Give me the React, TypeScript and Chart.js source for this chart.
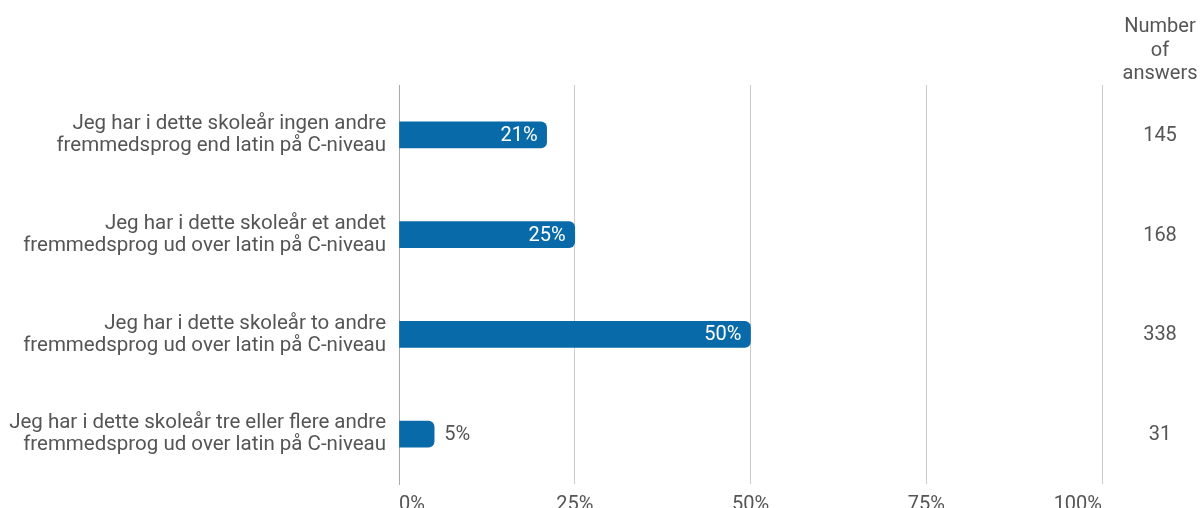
import React, { useEffect, useRef } from "react";
import { Chart, registerables } from "chart.js";

Chart.register(...registerables);

const categories: string[][] = [
  ["Jeg har i dette skoleår ingen andre", "fremmedsprog end latin på C-niveau"],
  ["Jeg har i dette skoleår et andet", "fremmedsprog ud over latin på C-niveau"],
  ["Jeg har i dette skoleår to andre", "fremmedsprog ud over latin på C-niveau"],
  ["Jeg har i dette skoleår tre eller flere andre", "fremmedsprog ud over latin på C-niveau"],
];
const percentValues: number[] = [21, 25, 50, 5];
const answerCounts: number[] = [145, 168, 338, 31];
const xTicks: number[] = [0, 25, 50, 75, 100];
const countHeader: string[] = ["Number", "of", "answers"];

const FONT = "Roboto, 'Noto Sans', sans-serif";
const TEXT = "#555555";
const BAR = "#086aa9";

const overlayPlugin = {
  id: "overlay",
  afterDatasetsDraw(chart: any) {
    const ctx = chart.ctx;
    const meta = chart.getDatasetMeta(0);
    const yScale = chart.scales.y;
    ctx.save();
    ctx.font = `20px ${FONT}`;
    ctx.textBaseline = "middle";
    meta.data.forEach((bar: any, i: number) => {
      const v = percentValues[i];
      const label = `${v}%`;
      if (v >= 10) {
        ctx.fillStyle = "#ffffff";
        ctx.textAlign = "right";
        ctx.fillText(label, bar.x - 9, bar.y + 1);
      } else {
        ctx.fillStyle = TEXT;
        ctx.textAlign = "left";
        ctx.fillText(label, bar.x + 10, bar.y + 1);
      }
    });
    // category labels
    ctx.font = `20.5px ${FONT}`;
    ctx.fillStyle = TEXT;
    ctx.textAlign = "right";
    categories.forEach((lines, i) => {
      const cy = yScale.getPixelForValue(i);
      const lh = 22;
      const start = cy - ((lines.length - 1) * lh) / 2;
      lines.forEach((t, j) => {
        ctx.fillText(t, chart.chartArea.left - 13, start + j * lh);
      });
    });
    // right column
    ctx.font = `20px ${FONT}`;
    const cx = 1160;
    ctx.textAlign = "center";
    answerCounts.forEach((c, i) => {
      ctx.fillText(String(c), cx, yScale.getPixelForValue(i) + 1);
    });
    const headerY = [27, 51, 74];
    countHeader.forEach((t, i) => {
      ctx.fillText(t, cx, headerY[i]);
    });
    ctx.restore();
  },
};

export default function App() {
  const ref = useRef<HTMLCanvasElement | null>(null);
  useEffect(() => {
    if (!ref.current) return;
    const chart = new Chart(ref.current, {
      type: "bar",
      data: {
        labels: categories.map((c) => c.join(" ")),
        datasets: [
          {
            data: percentValues,
            backgroundColor: BAR,
            borderRadius: 6,
            borderSkipped: "start",
            barThickness: 26,
          },
        ],
      },
      options: {
        indexAxis: "y",
        animation: false,
        responsive: true,
        maintainAspectRatio: false,
        layout: { padding: { left: 0, right: 99, top: 85, bottom: 0 } },
        plugins: { legend: { display: false }, tooltip: { enabled: false } },
        scales: {
          x: {
            min: 0,
            max: 100,
            afterBuildTicks: (scale: any) => {
              scale.ticks = xTicks.map((v) => ({ value: v }));
            },
            afterFit: (scale: any) => {
              scale.height = 24;
            },
            grid: {
              color: (c: any) => (c.index === 0 ? "#aaaaaa" : "#cccccc"),
              drawTicks: false,
              lineWidth: 1,
            },
            border: { display: false },
            ticks: {
              padding: 9,
              align: "inner",
              color: TEXT,
              font: { size: 20, family: FONT },
              callback: (v: any) => `${v}%`,
            },
          },
          y: {
            afterFit: (scale: any) => {
              scale.width = 399;
            },
            grid: { display: false, drawTicks: false },
            border: { display: true, color: "#aaaaaa" },
            ticks: { display: false },
          },
        },
      },
      plugins: [overlayPlugin],
    });
    return () => chart.destroy();
  }, []);
  return (
    <div style={{ position: "fixed", left: 0, top: 0, width: 1201, height: 508, background: "#fff" }}>
      <canvas ref={ref} />
    </div>
  );
}
